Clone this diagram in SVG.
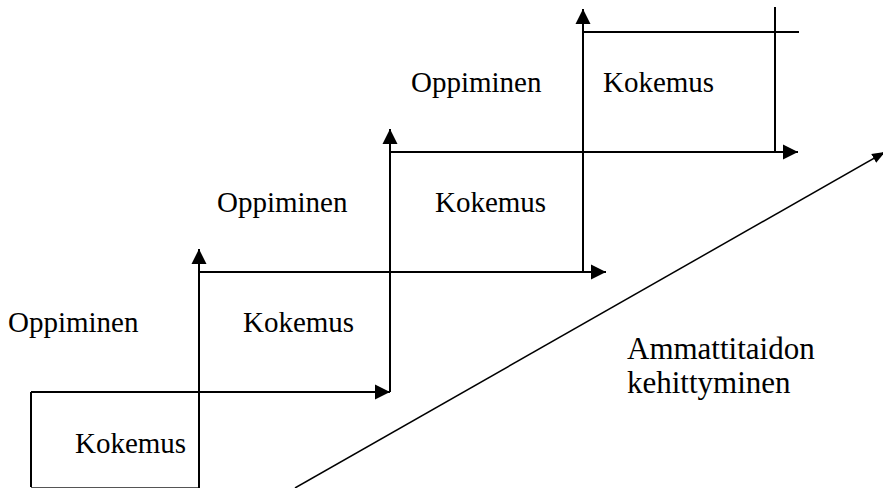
<svg xmlns="http://www.w3.org/2000/svg" width="883" height="488" viewBox="0 0 883 488">
<style>
.t{font-family:"Liberation Serif","Times New Roman",serif;font-size:29px;fill:#000}
.big{font-size:31px}
.ln{stroke:#000;stroke-width:2;fill:none}
.thin{stroke:#000;stroke-width:1.5;fill:none}
</style>
<defs>
<marker id="ah" markerUnits="userSpaceOnUse" markerWidth="16" markerHeight="16" viewBox="0 0 16 16" refX="15" refY="8" orient="auto">
<path d="M0,0.5 L15,8 L0,15.5 Z" fill="#000"/>
</marker>
<marker id="ahs" markerUnits="userSpaceOnUse" markerWidth="14" markerHeight="12" viewBox="0 0 14 12" refX="13" refY="6" orient="auto">
<path d="M0,1 L13,6 L0,11 Z" fill="#000"/>
</marker>
</defs>
<g id="connectors">
<path class="ln" d="M31,487 V392"/>
<path class="ln" d="M31,392 H390" marker-end="url(#ah)"/>
<path stroke="#555" stroke-width="1" fill="none" d="M31,487.5 H199"/>
<path class="ln" d="M199,488 V249" marker-end="url(#ah)"/>
<path class="ln" d="M199,272 H606" marker-end="url(#ah)"/>
<path class="ln" d="M390,392 V129" marker-end="url(#ah)"/>
<path class="ln" d="M390,152 H798" marker-end="url(#ah)"/>
<path class="ln" d="M583,272 V9" marker-end="url(#ah)"/>
<path class="ln" d="M583,32 H799"/>
<path class="ln" d="M775,7 V152"/>
<path class="thin" d="M295,488 L885,152" marker-end="url(#ahs)"/>
</g>
<g id="kokemus1"><text class="t" x="75" y="453">Kokemus</text></g>
<g id="oppiminen1"><text class="t" x="8" y="332">Oppiminen</text></g>
<g id="kokemus2"><text class="t" x="243" y="332">Kokemus</text></g>
<g id="oppiminen2"><text class="t" x="217" y="212">Oppiminen</text></g>
<g id="kokemus3"><text class="t" x="435" y="212">Kokemus</text></g>
<g id="oppiminen3"><text class="t" x="411" y="92">Oppiminen</text></g>
<g id="kokemus4"><text class="t" x="603" y="92">Kokemus</text></g>
<g id="ammattitaito"><text class="t big" x="627" y="359">Ammattitaidon</text><text class="t big" x="627" y="393">kehittyminen</text></g>
</svg>
